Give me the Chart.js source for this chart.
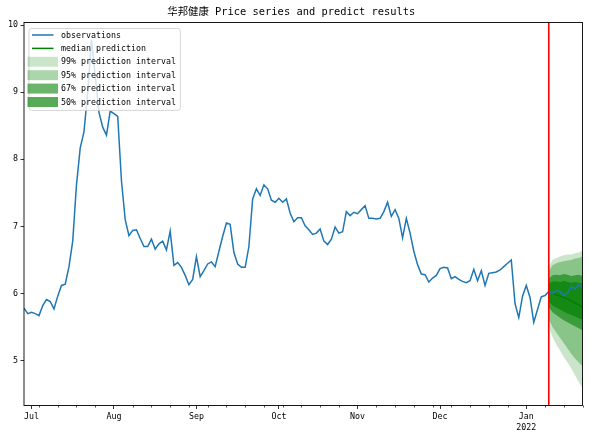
<!DOCTYPE html>
<html>
<head>
<meta charset="utf-8">
<script src="https://cdn.jsdelivr.net/npm/chart.js@4.4.0/dist/chart.umd.min.js"></script>
<style>
    html, body { margin: 0; padding: 0; background: #fff; }
</style>
</head>
<body>
<canvas id="chart" width="589" height="435"></canvas>
<script>
// ============================================
// DATA
// ============================================
const TITLE = '华邦健康 Price series and predict results';
const START_DATE = '2021-06-29';   // first business day on the axis
const FORECAST_START = 140;        // business-day index of first forecast step

const observations = [
    5.78, 5.70, 5.72, 5.70, 5.67, 5.82, 5.91, 5.88, 5.77, 5.96,
    6.12, 6.14, 6.40, 6.78, 7.62, 8.17, 8.41, 9.00, 9.78, 9.25,
    8.70, 8.48, 8.36, 8.72, 8.68, 8.64, 7.68, 7.10, 6.86, 6.94,
    6.95, 6.82, 6.70, 6.70, 6.81, 6.66, 6.74, 6.78, 6.65, 6.93,
    6.42, 6.46, 6.39, 6.27, 6.13, 6.21, 6.55, 6.25, 6.34, 6.44,
    6.47, 6.40, 6.63, 6.85, 7.05, 7.03, 6.61, 6.44, 6.39, 6.39,
    6.70, 7.41, 7.56, 7.46, 7.62, 7.56, 7.39, 7.36, 7.42, 7.36,
    7.41, 7.20, 7.07, 7.13, 7.13, 7.01, 6.95, 6.88, 6.90, 6.96,
    6.78, 6.73, 6.81, 6.99, 6.90, 6.92, 7.22, 7.16, 7.21, 7.19,
    7.25, 7.31, 7.12, 7.12, 7.11, 7.12, 7.22, 7.36, 7.15, 7.25,
    7.12, 6.83, 7.12, 6.90, 6.63, 6.43, 6.29, 6.28, 6.17, 6.23,
    6.27, 6.37, 6.39, 6.38, 6.22, 6.25, 6.21, 6.18, 6.16, 6.19,
    6.36, 6.19, 6.34, 6.12, 6.30, 6.31, 6.32, 6.35, 6.40, 6.45,
    6.50, 5.85, 5.64, 5.96, 6.12, 5.94, 5.57, 5.76, 5.95, 5.97,
    6.03, 6.00, 6.04, 6.03, 5.97, 6.01, 6.10, 6.07, 6.13, 6.10
];

const median   = [6.02, 6.00, 5.98, 5.96, 5.94, 5.92, 5.89, 5.86, 5.83, 5.80];
const p50Upper = [6.15, 6.18, 6.18, 6.17, 6.19, 6.17, 6.16, 6.17, 6.16, 6.15];
const p50Lower = [5.88, 5.82, 5.79, 5.76, 5.73, 5.70, 5.68, 5.66, 5.63, 5.61];
const p67Upper = [6.22, 6.27, 6.28, 6.27, 6.29, 6.28, 6.26, 6.27, 6.28, 6.26];
const p67Lower = [5.80, 5.72, 5.68, 5.64, 5.60, 5.57, 5.54, 5.51, 5.48, 5.45];
const p95Upper = [6.33, 6.42, 6.45, 6.47, 6.48, 6.49, 6.50, 6.52, 6.53, 6.55];
const p95Lower = [5.62, 5.50, 5.42, 5.34, 5.26, 5.18, 5.10, 5.03, 4.97, 4.92];
const p99Upper = [6.40, 6.50, 6.53, 6.55, 6.57, 6.58, 6.58, 6.60, 6.61, 6.64];
const p99Lower = [5.50, 5.35, 5.24, 5.15, 5.05, 4.97, 4.88, 4.78, 4.68, 4.59];

const yTicks = [5, 6, 7, 8, 9, 10];
const monthNames = ['Jan', 'Feb', 'Mar', 'Apr', 'May', 'Jun', 'Jul', 'Aug', 'Sep', 'Oct', 'Nov', 'Dec'];

const legendLabels = [
    'observations', 'median prediction',
    '99% prediction interval', '95% prediction interval',
    '67% prediction interval', '50% prediction interval'
];

// ============================================
// HELPERS
// ============================================
const FONT = '"DejaVu Sans Mono", "Noto Sans CJK SC", monospace';
const BLUE = '#1f77b4';
const GREEN = '#008000';
// gluonts style alpha: (p/100)^0.3 for lower percentile of each band
const bandAlpha = { 99: 0.204, 95: 0.331, 67: 0.582, 50: 0.660 };
const green = (a) => `rgba(0,128,0,${a})`;

function businessDays(start, count) {
    const out = [];
    const d = new Date(start + 'T00:00:00');
    while (out.length < count) {
        const wd = d.getDay();
        if (wd !== 0 && wd !== 6) out.push(new Date(d));
        d.setDate(d.getDate() + 1);
    }
    return out;
}

const dates = businessDays(START_DATE, observations.length);

// major ticks: first business day of each month, minor: mondays
const majorTicks = [];
const minorTicks = [];
dates.forEach((d, i) => {
    if (i > 0 && d.getMonth() !== dates[i - 1].getMonth()) {
        const name = monthNames[d.getMonth()];
        majorTicks.push({ value: i, label: d.getMonth() === 0 ? [name, String(d.getFullYear())] : name });
    } else if (d.getDay() === 1) {
        minorTicks.push(i);
    }
});

const obsPoints = observations.map((v, i) => ({ x: i, y: v }));
const fc = (arr) => arr.map((v, j) => ({ x: FORECAST_START + j, y: v }));

const lineDefaults = { pointRadius: 0, tension: 0, fill: false };
const bandPair = (upper, lower, pct, lowerIndex) => ([
    { ...lineDefaults, label: pct + '% upper', data: fc(upper), borderWidth: 0,
      borderColor: 'transparent', backgroundColor: green(bandAlpha[pct]), fill: { target: lowerIndex } },
    { ...lineDefaults, label: pct + '% lower', data: fc(lower), borderWidth: 0, borderColor: 'transparent' }
]);

// ============================================
// PLUGINS
// ============================================
const axesDecor = {
    id: 'axesDecor',
    afterDatasetsDraw(chart) {
        const { ctx, chartArea: a, scales } = chart;
        ctx.save();
        // forecast start marker
        const xr = scales.x.getPixelForValue(FORECAST_START);
        ctx.strokeStyle = '#ff0000';
        ctx.lineWidth = 1.6;
        ctx.beginPath();
        ctx.moveTo(xr, a.top);
        ctx.lineTo(xr, a.bottom);
        ctx.stroke();

        // minor ticks on x
        ctx.strokeStyle = '#000';
        ctx.lineWidth = 0.7;
        minorTicks.forEach(i => {
            const x = Math.round(scales.x.getPixelForValue(i)) + 0.5;
            ctx.beginPath();
            ctx.moveTo(x, a.bottom);
            ctx.lineTo(x, a.bottom + 2);
            ctx.stroke();
        });

        // frame
        ctx.lineWidth = 0.9;
        ctx.strokeRect(a.left, a.top, a.right - a.left, a.bottom - a.top);
        ctx.restore();
    }
};

const boxLegend = {
    id: 'boxLegend',
    afterDraw(chart) {
        const { ctx, chartArea: a } = chart;
        ctx.save();
        ctx.font = `8.3px ${FONT}`;
        const left = a.left + 4.5;
        const top = a.top + 5.5;
        const rowH = 13.4;
        const textX = left + 32.5;
        const maxW = Math.max(...legendLabels.map(t => ctx.measureText(t).width));
        const w = textX - left + maxW + 4;
        const h = rowH * legendLabels.length + 1.5;

        ctx.fillStyle = 'rgba(255,255,255,0.8)';
        ctx.strokeStyle = 'rgba(204,204,204,0.8)';
        ctx.lineWidth = 1;
        ctx.beginPath();
        ctx.roundRect(left + 0.5, top + 0.5, w, h, 2.5);
        ctx.fill();
        ctx.stroke();

        const handles = [
            { color: BLUE, width: 1.5, x0: left + 3.5, x1: left + 25 },
            { color: GREEN, width: 1.5, x0: left + 3.5, x1: left + 25 },
            { color: green(bandAlpha[99]), width: 10, x0: left - 1, x1: left + 29.5 },
            { color: green(bandAlpha[95]), width: 10, x0: left - 1, x1: left + 29.5 },
            { color: green(bandAlpha[67]), width: 10, x0: left - 1, x1: left + 29.5 },
            { color: green(bandAlpha[50]), width: 10, x0: left - 1, x1: left + 29.5 }
        ];
        legendLabels.forEach((label, k) => {
            const y = top + 7 + k * rowH;
            const hd = handles[k];
            ctx.strokeStyle = hd.color;
            ctx.lineWidth = hd.width;
            ctx.beginPath();
            ctx.moveTo(hd.x0, y);
            ctx.lineTo(hd.x1, y);
            ctx.stroke();
            ctx.fillStyle = '#000';
            ctx.textBaseline = 'middle';
            ctx.fillText(label, textX, y + 0.5);
        });
        ctx.restore();
    }
};

// ============================================
// CHART
// ============================================
document.addEventListener('DOMContentLoaded', () => {
    const ctx = document.getElementById('chart').getContext('2d');

    new Chart(ctx, {
        type: 'line',
        data: {
            datasets: [
                { ...lineDefaults, label: 'observations', data: obsPoints, borderColor: BLUE, borderWidth: 1.5 },
                { ...lineDefaults, label: 'median prediction', data: fc(median), borderColor: GREEN, borderWidth: 1.5 },
                ...bandPair(p50Upper, p50Lower, 50, 3),
                ...bandPair(p67Upper, p67Lower, 67, 5),
                ...bandPair(p95Upper, p95Lower, 95, 7),
                ...bandPair(p99Upper, p99Lower, 99, 9)
            ]
        },
        options: {
            responsive: false,
            devicePixelRatio: 1,
            animation: false,
            layout: { padding: { left: 0, right: 6.5, top: 0, bottom: 0 } },
            plugins: {
                legend: { display: false },
                tooltip: { enabled: false },
                title: {
                    display: true,
                    text: TITLE,
                    color: '#000',
                    font: { family: FONT, size: 10.4, weight: 'normal', lineHeight: 1.2 },
                    padding: { top: 6, bottom: 4 }
                }
            },
            scales: {
                x: {
                    type: 'linear',
                    min: 0,
                    max: observations.length - 1,
                    afterBuildTicks: (scale) => { scale.ticks = majorTicks.map(t => ({ value: t.value })); },
                    afterFit: (scale) => { scale.height = 29.5; },
                    border: { display: false },
                    grid: { drawOnChartArea: false, drawTicks: true, tickLength: 3.5, color: '#000', lineWidth: 0.8 },
                    ticks: {
                        autoSkip: false,
                        maxRotation: 0,
                        padding: 2,
                        color: '#000',
                        font: { family: FONT, size: 8.3, lineHeight: 1.35 },
                        callback: (value) => {
                            const t = majorTicks.find(m => m.value === value);
                            return t ? t.label : '';
                        }
                    }
                },
                y: {
                    type: 'linear',
                    min: 4.33,
                    max: 10.04,
                    afterBuildTicks: (scale) => { scale.ticks = yTicks.map(v => ({ value: v })); },
                    afterFit: (scale) => { scale.width = 24; },
                    border: { display: false },
                    grid: { drawOnChartArea: false, drawTicks: true, tickLength: 3.5, color: '#000', lineWidth: 0.8 },
                    ticks: {
                        padding: 2.5,
                        color: '#000',
                        font: { family: FONT, size: 8.3 },
                        callback: (value) => String(value)
                    }
                }
            }
        },
        plugins: [axesDecor, boxLegend]
    });
});
</script>
</body>
</html>
